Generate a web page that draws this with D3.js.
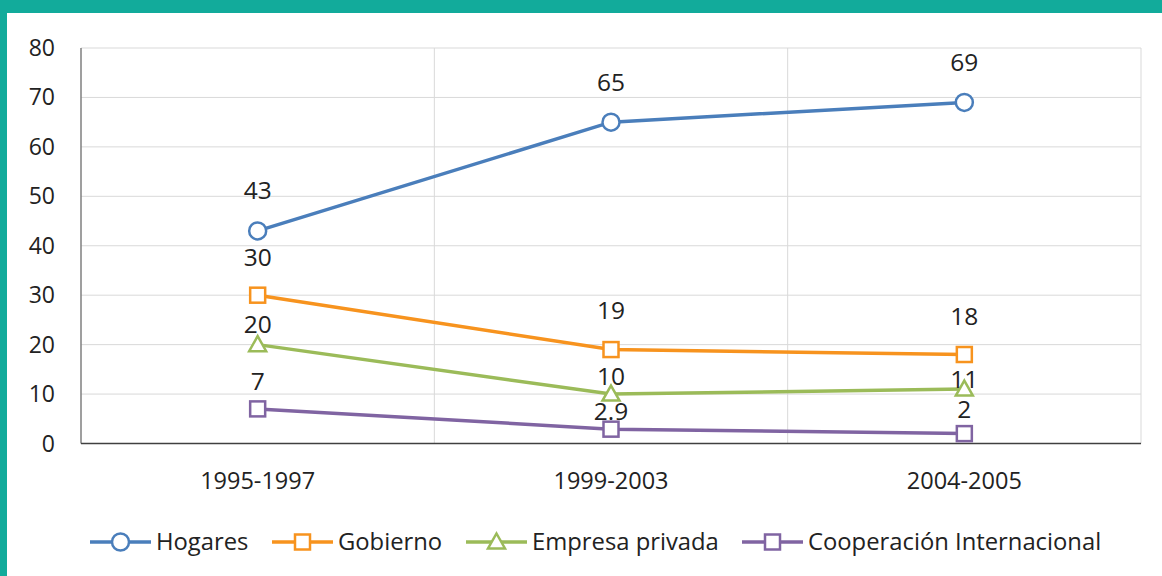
<!DOCTYPE html>
<head>
<meta charset="utf-8">
<script src="https://d3js.org/d3.v7.min.js"></script>
<style>
  body { margin: 0; background: #fff; }
  text { font-family: "Open Sans", sans-serif; fill: #222; }
</style>
</head>
<body>
<div id="chart"></div>
<script>
  var periods = ["1995-1997", "1999-2003", "2004-2005"];
  var hogares = [43, 65, 69];
  var gobierno = [30, 19, 18];
  var empresa = [20, 10, 11];
  var cooperacion = [7, 2.9, 2];
  var yTicks = [0, 10, 20, 30, 40, 50, 60, 70, 80];

  var series = [
    {name: "Hogares", values: hogares, color: "#4a7ebb", shape: "circle", labelDy: [-40, -40, -40]},
    {name: "Gobierno", values: gobierno, color: "#f7931e", shape: "square", labelDy: [-38, -39, -38]},
    {name: "Empresa privada", values: empresa, color: "#9bbb59", shape: "triangle", labelDy: [-20, -18, -10]},
    {name: "Cooperación Internacional", values: cooperacion, color: "#8064a2", shape: "square", labelDy: [-27, -18, -24]}
  ];

  var width = 1162, height = 576;
  var svg = d3.select("#chart").append("svg")
      .attr("width", width)
      .attr("height", height);

  // teal frame
  svg.append("rect").attr("x", 0).attr("y", 0).attr("width", width).attr("height", 13).attr("fill", "#12ab9b");
  svg.append("rect").attr("x", 0).attr("y", 0).attr("width", 7).attr("height", height).attr("fill", "#12ab9b");

  var plotLeft = 81, plotRight = 1141, plotTop = 48, plotBottom = 443.5;

  var x = d3.scaleBand().domain(periods).range([plotLeft, plotRight]);
  var y = d3.scaleLinear().domain([0, 80]).range([plotBottom, plotTop]);

  // horizontal gridlines
  svg.selectAll(".hgrid").data(yTicks.slice(1)).enter().append("line")
    .attr("x1", plotLeft).attr("x2", plotRight)
    .attr("y1", function(d) { return y(d); }).attr("y2", function(d) { return y(d); })
    .attr("stroke", "#d9d9d9").attr("stroke-width", 1);

  // vertical gridlines at category boundaries
  svg.selectAll(".vgrid").data(periods).enter().append("line")
    .attr("x1", function(d) { return x(d) + x.bandwidth(); })
    .attr("x2", function(d) { return x(d) + x.bandwidth(); })
    .attr("y1", plotTop).attr("y2", plotBottom)
    .attr("stroke", "#d9d9d9").attr("stroke-width", 1);

  // axes lines
  svg.append("line").attr("x1", plotLeft).attr("x2", plotLeft).attr("y1", plotTop).attr("y2", plotBottom)
    .attr("stroke", "#7f7f7f").attr("stroke-width", 1.5);
  svg.append("line").attr("x1", plotLeft).attr("x2", plotRight).attr("y1", plotBottom).attr("y2", plotBottom)
    .attr("stroke", "#404040").attr("stroke-width", 1.5);

  // y tick labels
  svg.selectAll(".ytick").data(yTicks).enter().append("text")
    .attr("x", 55).attr("y", function(d) { return y(d); })
    .attr("dy", "0.35em").attr("text-anchor", "end")
    .style("font-size", "23px")
    .text(function(d) { return d; });

  // x tick labels
  svg.selectAll(".xtick").data(periods).enter().append("text")
    .attr("x", function(d) { return x(d) + x.bandwidth() / 2; })
    .attr("y", 481).attr("dy", "0.35em").attr("text-anchor", "middle")
    .style("font-size", "23.5px")
    .text(function(d) { return d; });

  var cx = function(i) { return x(periods[i]) + x.bandwidth() / 2; };

  function drawMarker(g, shape, color, px, py) {
    if (shape === "circle") {
      g.append("circle").attr("cx", px).attr("cy", py).attr("r", 8.5)
        .attr("fill", "#fff").attr("stroke", color).attr("stroke-width", 2.5);
    } else if (shape === "square") {
      g.append("rect").attr("x", px - 7.5).attr("y", py - 7.5).attr("width", 15).attr("height", 15)
        .attr("fill", "#fff").attr("stroke", color).attr("stroke-width", 2.5);
    } else {
      g.append("path")
        .attr("d", "M" + px + "," + (py - 8.5) + "L" + (px + 8.5) + "," + (py + 6.5) + "L" + (px - 8.5) + "," + (py + 6.5) + "Z")
        .attr("fill", "#fff").attr("stroke", color).attr("stroke-width", 2.5);
    }
  }

  var line = d3.line()
    .x(function(d, i) { return cx(i); })
    .y(function(d) { return y(d); });

  series.forEach(function(s) {
    var g = svg.append("g");
    g.append("path").datum(s.values)
      .attr("d", line)
      .attr("fill", "none")
      .attr("stroke", s.color)
      .attr("stroke-width", 3.5);
    s.values.forEach(function(v, i) {
      drawMarker(g, s.shape, s.color, cx(i), y(v));
    });
  });

  // data labels on top
  series.forEach(function(s) {
    s.values.forEach(function(v, i) {
      svg.append("text")
        .attr("x", cx(i)).attr("y", y(v) + s.labelDy[i])
        .attr("dy", "0.35em").attr("text-anchor", "middle")
        .style("font-size", "24.5px")
        .text(v);
    });
  });

  // legend
  var legendX = [90, 272, 466, 742];
  var legend = svg.selectAll(".legend").data(series).enter().append("g")
    .attr("transform", function(d, i) { return "translate(" + legendX[i] + ",542)"; });
  legend.append("line").attr("x1", 0).attr("x2", 61).attr("y1", 0).attr("y2", 0)
    .attr("stroke", function(d) { return d.color; }).attr("stroke-width", 3.5);
  legend.each(function(d) {
    drawMarker(d3.select(this), d.shape, d.color, 30.5, 0);
  });
  legend.append("text").attr("x", 66).attr("y", 0).attr("dy", "0.35em")
    .style("font-size", "23.8px")
    .text(function(d) { return d.name; });
</script>
</body>
</html>
